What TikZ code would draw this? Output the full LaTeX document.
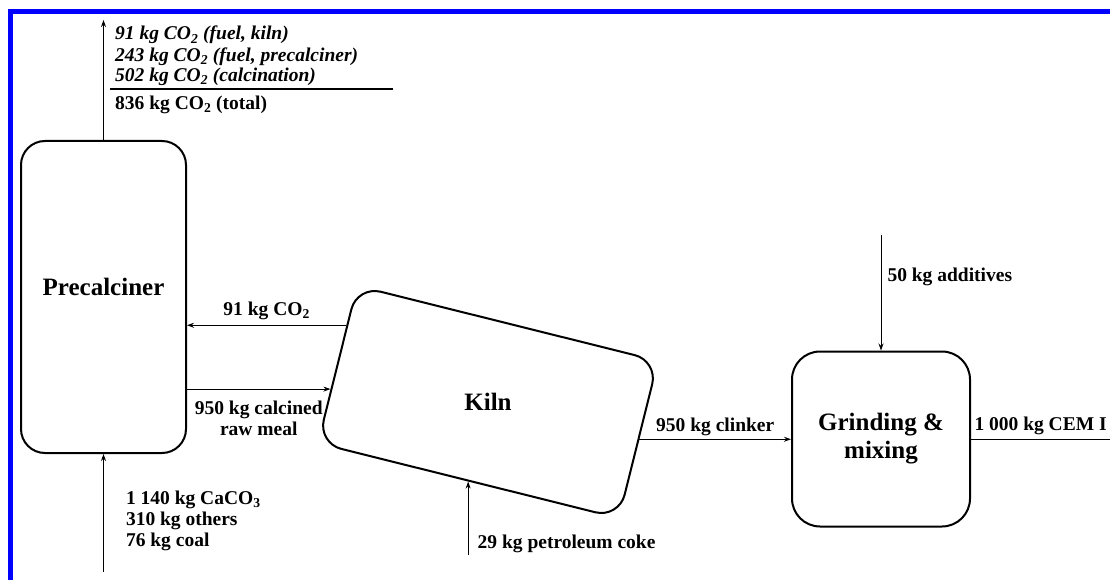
\documentclass[tikz,border=0pt]{standalone}
\usepackage{fontspec}
\setmainfont{Liberation Serif}
\usetikzlibrary{arrows.meta,positioning,calc}

\begin{document}
\begin{tikzpicture}[x=1pt, y=-1pt, >={Stealth[length=7pt, width=5pt]},
    unit/.style={draw, line width=2pt, rounded corners=24pt},
    flow/.style={->, line width=1pt},
    lbl/.style={font=\fontsize{19.5}{21}\selectfont\bfseries, inner sep=0pt},
    ilbl/.style={lbl, font=\fontsize{19.5}{21}\selectfont\bfseries\itshape},
    big/.style={font=\fontsize{25}{28}\selectfont\bfseries}]
  \useasboundingbox (0,0) rectangle (1110,580);
  % frame (top and left edge)
  \fill[blue] (8,9) rectangle (1110,14);
  \fill[blue] (8,9) rectangle (13,580);

  % units
  \node[unit, big, minimum width=165pt, minimum height=312pt] (pre) at (103.5,297) {\raisebox{20pt}{Precalciner}};
  \node[unit, rotate=-14, minimum width=310pt, minimum height=162pt] (kiln) at (488,402) {};
  \node[big] (kilntxt) at (kiln.center) {Kiln};
  \node[unit, big, rounded corners=28pt, minimum width=178pt, minimum height=175pt, align=center] (grind) at (881,439) {Grinding \&\\mixing};

  % points on the kiln border
  \coordinate (kout) at ($(kiln.north west)!0.255!(kiln.south west)$);
  \coordinate (kin) at ($(kiln.north west)!0.656!(kiln.south west)$);
  \coordinate (kbot) at ($(kiln.south west)!0.5!(kiln.south east)$);
  \coordinate (kright) at ($(kiln.north east)!0.497!(kiln.south east)$);

  % free ends
  \coordinate (stack) at (pre.north |- 0,20);
  \coordinate (feed) at (pre.south |- 0,572);
  \coordinate (coke) at (kbot |- 0,555);
  \coordinate (addin) at (grind.north |- 0,235);
  \coordinate (cemout) at (1112,0 |- grind.east);

  % flows
  \draw[flow] (pre.north) -- (stack);
  \draw[flow] (feed) -- (pre.south)
    node[pos=0.69, anchor=north west, xshift=22pt, lbl, align=left] {1 140 kg CaCO\textsubscript{3}\\310 kg others\\76 kg coal};
  \draw[flow] (kout) -- (pre.east |- kout)
    node[midway, anchor=base, yshift=10pt, lbl] {91 kg CO\textsubscript{2}};
  \draw[flow] (pre.east |- kin) -- (kin)
    node[midway, anchor=north, yshift=-11pt, lbl, align=center] {950 kg calcined\\raw meal};
  \draw[flow] (coke) -- (kbot)
    node[pos=0.09, anchor=base west, xshift=9pt, lbl] {29 kg petroleum coke};
  \draw[flow] (kright) -- (grind.west |- kright)
    node[midway, anchor=base, yshift=7.6pt, lbl] {950 kg clinker};
  \draw[flow] (addin) -- (grind.north)
    node[pos=0.4, anchor=base west, xshift=6pt, lbl] {50 kg additives};
  \draw[line width=1pt] (grind.east) -- (cemout)
    node[pos=0, anchor=base west, xshift=3pt, yshift=9pt, lbl] {1 000 kg CEM I};

  % CO2 balance
  \node[ilbl, anchor=base west] (co2kiln) at (115,40) {91 kg CO\textsubscript{2} (fuel, kiln)};
  \node[ilbl, anchor=base west] (co2pre) at (115,61.7) {243 kg CO\textsubscript{2} (fuel, precalciner)};
  \node[ilbl, anchor=base west] (co2calc) at (115,81.7) {502 kg CO\textsubscript{2} (calcination)};
  \node[lbl, anchor=base west] (co2tot) at (115,109.3) {836 kg CO\textsubscript{2} (total)};
  \draw[line width=1.6pt] (110,89.3) -- (393,89.3);
\end{tikzpicture}
\end{document}
